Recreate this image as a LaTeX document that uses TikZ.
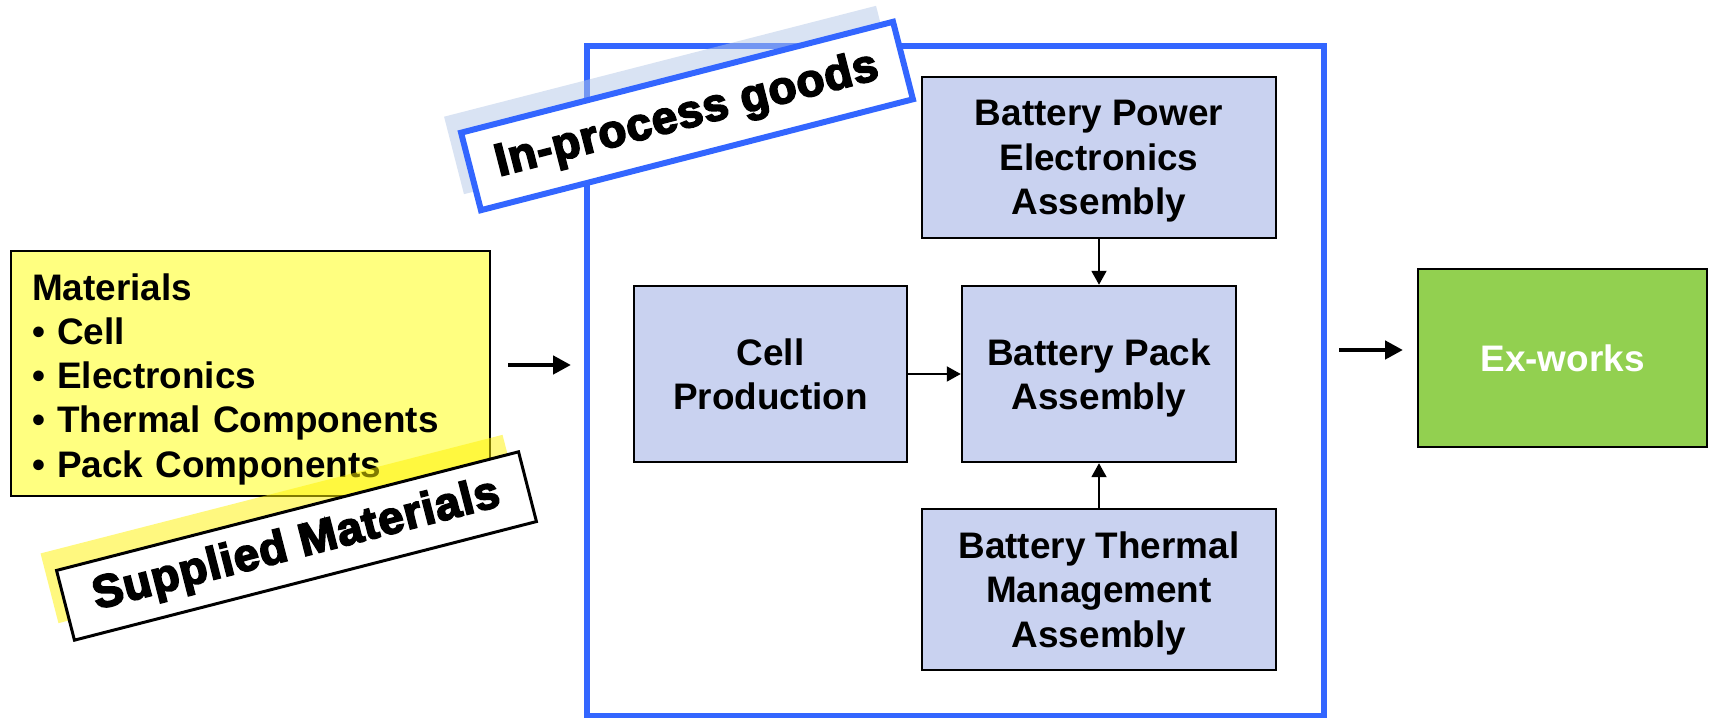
\documentclass[tikz,border=0pt]{standalone}
\usepackage{fontspec}
\setmainfont{Liberation Sans}
\newfontfamily\heavyfont{Liberation Sans}[LetterSpace=2,BoldFeatures={FakeBold=4}]
\usepackage{xcolor}
\usetikzlibrary{
    arrows.meta,
    positioning
}
\tikzset{
  stage/.style   = {draw, line width=1.4pt, fill=stagefill, align=center,
                    text depth=0pt, font=\fontsize{21}{25.2}\selectfont\bfseries},
  arr/.style     = {-{Triangle[length=0.28cm, width=0.3cm]}, line width=1.1pt},
  bigarr/.style  = {-{Triangle[length=0.36cm, width=0.36cm]}, line width=2.8pt}
}
\definecolor{procblue}{RGB}{51,102,255}
\definecolor{stagefill}{RGB}{201,210,240}
\definecolor{matyellow}{RGB}{255,255,128}
\definecolor{exgreen}{RGB}{146,208,80}
\definecolor{shadeblue}{RGB}{180,199,231}

\begin{document}
\begin{tikzpicture}[
    matbox/.style={draw, line width=1.4pt, fill=matyellow, align=left,
                   minimum width=9.58cm, minimum height=4.9cm,
                   text width=8.74cm, inner xsep=0.42cm,
                   font=\fontsize{21}{25.2}\selectfont\bfseries},
    tag/.style={fill=white, rotate=14.4, inner sep=0pt,
                font=\heavyfont\fontsize{26}{30}\selectfont\bfseries},
    shade/.style={rotate=14.4, fill opacity=0.5, inner sep=0pt}
  ]
    \useasboundingbox (0,0) rectangle (34.28,-14.36);
    % supplied side
    \node[matbox](mat) at (5.01,-7.47)
        {\rule{0pt}{0.76cm}Materials\\\textbullet\ Cell\\\textbullet\ Electronics\\
         \textbullet\ Thermal Components\\\textbullet\ Pack Components};
    % in-process frame and stages
    \node[draw=procblue, line width=3.4pt, minimum width=14.74cm,
          minimum height=13.4cm](frame) at (19.11,-7.62){};
    \node[stage, minimum width=5.46cm, minimum height=3.52cm](cell)
        at (15.41,-7.48){Cell\\Production};
    \node[stage, minimum width=5.48cm, minimum height=3.52cm](pack)
        at (21.98,-7.48){Battery Pack\\Assembly};
    \node[stage, minimum width=7.08cm, minimum height=3.22cm](bpe)
        at (21.98,-3.15){Battery Power\\Electronics\\Assembly};
    \node[stage, minimum width=7.08cm, minimum height=3.22cm](btm)
        at (21.98,-11.79){Battery Thermal\\Management\\Assembly};
    \node[stage, fill=exgreen, text=white, minimum width=5.78cm,
          minimum height=3.56cm](ex) at (31.25,-7.16){Ex-works};
    \draw[arr](cell)--(pack); \draw[arr](bpe)--(pack); \draw[arr](btm)--(pack);
    \coordinate(in1) at (10.16,-7.3);  \coordinate(in2) at (11.42,-7.3);
    \coordinate(out1) at (26.78,-7.0); \coordinate(out2) at (28.06,-7.0);
    \draw[bigarr](in1)--(in2);
    \draw[bigarr](out1)--(out2);
    % tilted labels
    \node[shade, fill=shadeblue, minimum width=8.92cm, minimum height=1.6cm]
        (ipshade) at (13.40,-2.0){};
    \node[tag, draw=procblue, line width=3.4pt, minimum width=8.92cm,
          minimum height=1.6cm](iptag) at (13.74,-2.32){In-process goods};
    \node[shade, fill=yellow, minimum width=9.54cm, minimum height=1.44cm]
        (smshade) at (5.61,-10.58){};
    \node[tag, draw, line width=1.7pt, minimum width=9.54cm,
          minimum height=1.44cm](smtag) at (5.93,-10.92){Supplied Materials};
  \end{tikzpicture}
\end{document}
